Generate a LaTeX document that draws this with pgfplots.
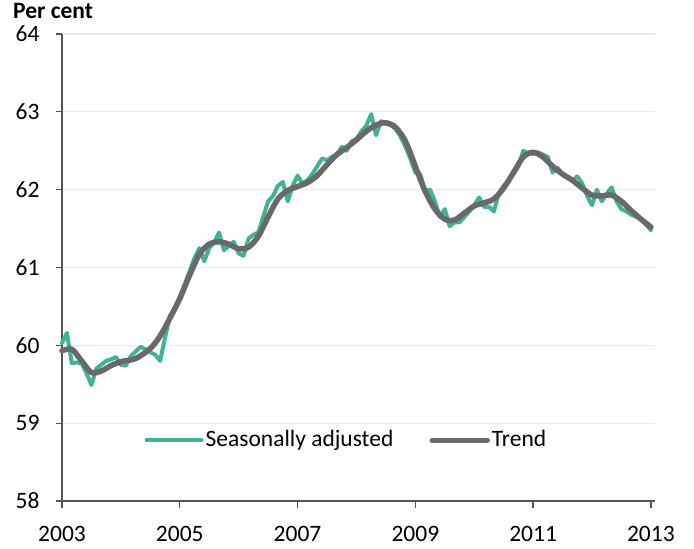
\documentclass[border=0pt]{standalone}
\usepackage{fontspec}
\setmainfont{Carlito}
\usepackage{pgfplots}
\usepackage{pgfplotstable}
\pgfplotsset{compat=1.18}
\definecolor{sagreen}{RGB}{64,178,150}
\definecolor{trendgray}{RGB}{105,105,105}
\definecolor{gridc}{RGB}{238,236,224}
\definecolor{axc}{RGB}{85,85,85}

\pgfplotstableread{
m v
0 60.03
1 60.16
2 59.77
3 59.78
4 59.77
5 59.64
6 59.49
7 59.70
8 59.75
9 59.80
10 59.82
11 59.85
12 59.75
13 59.74
14 59.86
15 59.92
16 59.98
17 59.95
18 59.91
19 59.88
20 59.80
21 60.10
22 60.38
23 60.48
24 60.62
25 60.78
26 60.95
27 61.12
28 61.25
29 61.08
30 61.25
31 61.32
32 61.45
33 61.22
34 61.28
35 61.33
36 61.18
37 61.15
38 61.37
39 61.42
40 61.45
41 61.65
42 61.85
43 61.92
44 62.05
45 62.10
46 61.85
47 62.05
48 62.18
49 62.08
50 62.12
51 62.20
52 62.30
53 62.40
54 62.38
55 62.42
56 62.45
57 62.55
58 62.50
59 62.62
60 62.65
61 62.75
62 62.82
63 62.97
64 62.70
65 62.88
66 62.85
67 62.83
68 62.78
69 62.68
70 62.55
71 62.40
72 62.22
73 62.20
74 61.98
75 62.00
76 61.85
77 61.65
78 61.75
79 61.53
80 61.58
81 61.58
82 61.65
83 61.72
84 61.80
85 61.90
86 61.78
87 61.78
88 61.72
89 61.95
90 62.05
91 62.12
92 62.20
93 62.30
94 62.50
95 62.47
96 62.46
97 62.48
98 62.45
99 62.42
100 62.22
101 62.28
102 62.20
103 62.15
104 62.12
105 62.17
106 62.08
107 61.92
108 61.80
109 62.00
110 61.85
111 61.95
112 62.03
113 61.85
114 61.75
115 61.72
116 61.68
117 61.65
118 61.63
119 61.55
120 61.48
}\sadata

\pgfplotstableread{
m v
0 59.93
2 59.95
4 59.80
6 59.65
8 59.67
10 59.74
12 59.79
15 59.83
18 59.96
20 60.12
22 60.35
24 60.60
26 60.90
28 61.17
30 61.30
32 61.33
34 61.30
36 61.24
38 61.26
40 61.40
42 61.65
44 61.88
46 61.99
48 62.04
50 62.09
52 62.18
54 62.32
56 62.45
58 62.54
60 62.64
62 62.75
64 62.83
66 62.86
68 62.80
70 62.62
72 62.30
74 61.98
76 61.75
78 61.62
80 61.61
82 61.70
84 61.79
86 61.83
88 61.88
90 62.02
92 62.22
94 62.42
96 62.48
98 62.42
100 62.30
102 62.20
104 62.12
106 62.02
108 61.93
110 61.92
112 61.93
114 61.85
116 61.73
118 61.62
120 61.52
}\trdata

\begin{document}
\fontsize{23.5bp}{28bp}\selectfont
\begin{tikzpicture}
\begin{axis}[
  scale only axis,
  width=593bp, height=467bp,
  xmin=2003, xmax=2013.07,
  ymin=58, ymax=64,
  xtick={2003,2005,2007,2009,2011,2013},
  xticklabels={2003,2005,2007,2009,2011,2013},
  ytick={58,59,60,61,62,63,64},
  yticklabels={58,59,60,61,62,63,64},
  axis x line*=bottom,
  axis y line*=left,
  axis line style={axc, line width=1.3bp},
  tick style={axc, line width=1.3bp},
  major tick length=6.5bp,
  tick align=outside,
  ymajorgrids,
  grid style={gridc, line width=1.2bp},
  yticklabel style={inner sep=0pt, xshift=-15.8bp, font=\fontsize{23.5bp}{28bp}\selectfont},
  xticklabel style={inner sep=0pt, yshift=-18.8bp, font=\fontsize{23.5bp}{28bp}\selectfont},
  clip=false,
  legend style={at={(axis cs:2007.83,58.78)}, anchor=center, draw=none, fill=none,
    font=\fontsize{23.5bp}{28bp}\selectfont, inner sep=0pt,
    nodes={inner sep=2bp}},
  legend columns=2,
  legend cell align=left,
  /tikz/every even column/.append style={column sep=34bp},
  legend image code/.code={\draw[#1] (0bp,0bp) -- (55bp,0bp);},
  line join=round,
]
\addplot[sagreen, line width=4bp, line cap=round] table[x expr=2003+\thisrow{m}/12, y=v] {\sadata};
\addlegendentry{Seasonally adjusted}
\addplot[trendgray, line width=5.5bp, smooth, line cap=round] table[x expr=2003+\thisrow{m}/12, y=v] {\trdata};
\addlegendentry{Trend}
\node[anchor=base west, font=\bfseries\fontsize{23.5bp}{28bp}\selectfont, inner sep=0pt] at (rel axis cs:0,1) [xshift=-49bp, yshift=15bp] {Per cent};
\end{axis}
\path (current axis.south west) ++(-62bp,-48bp) rectangle ++(694bp,549bp);
\end{tikzpicture}
\end{document}
